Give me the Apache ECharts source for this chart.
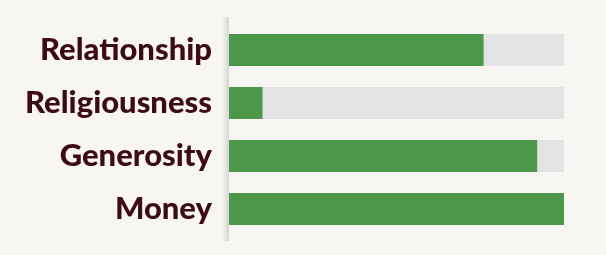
<!DOCTYPE html>
<html><head><meta charset="utf-8">
<script src="https://cdn.jsdelivr.net/npm/echarts@6/dist/echarts.min.js"></script>
<style>html,body{margin:0;padding:0;background:#f7f6f3;}#c{width:606px;height:255px;}</style>
</head><body><div id="c"></div>
<script>
const categories = ['Relationship','Religiousness','Generosity','Money'];
const values = [76, 10, 92, 100];
const maxValues = [100, 100, 100, 100];
const chart = echarts.init(document.getElementById('c'), null, {renderer:'canvas'});
chart.setOption({
  backgroundColor:'#f7f6f3',
  animation:false,
  grid:{left:229,right:42,top:23.5,bottom:19.5},
  xAxis:{type:'value',min:0,max:100,show:false},
  yAxis:{type:'category',data:categories,inverse:true,
    axisLine:{show:false},axisTick:{show:false},
    axisLabel:{margin:17,color:'#3d0c13',fontFamily:'Lato',fontWeight:900,fontSize:31}},
  series:[
    {type:'bar',data:maxValues,barWidth:32,itemStyle:{color:'#e2e3e4'},silent:true,z:1},
    {type:'bar',data:values,barWidth:32,barGap:'-100%',itemStyle:{color:'#4c9749'},z:2}
  ],
  graphic:[{type:'rect',shape:{x:222,y:17,width:7,height:224},
    style:{fill:new echarts.graphic.LinearGradient(0,0,1,0,[{offset:0,color:'rgba(0,0,0,0)'},{offset:1,color:'rgba(0,0,0,0.14)'}])},z:0}]
});
</script></body></html>
